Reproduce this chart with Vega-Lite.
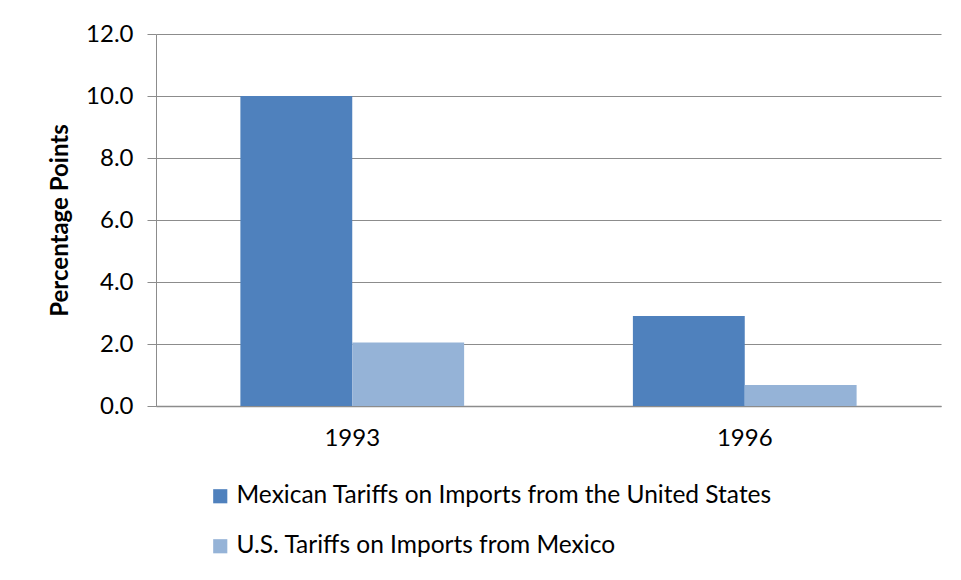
{
  "$schema": "https://vega.github.io/schema/vega-lite/v6.json",
  "width": 785,
  "height": 372,
  "autosize": {"type": "none"},
  "padding": {"left": 156, "top": 34, "right": 20, "bottom": 174},
  "background": "white",
  "config": {
    "view": {"stroke": null},
    "font": "Lato"
  },
  "data": {
    "values": [
      {"year": "1993", "series": "Mexican Tariffs on Imports from the United States", "value": 10.0},
      {"year": "1993", "series": "U.S. Tariffs on Imports from Mexico", "value": 2.05},
      {"year": "1996", "series": "Mexican Tariffs on Imports from the United States", "value": 2.9},
      {"year": "1996", "series": "U.S. Tariffs on Imports from Mexico", "value": 0.68}
    ]
  },
  "mark": {"type": "bar"},
  "encoding": {
    "x": {
      "field": "year",
      "type": "nominal",
      "scale": {"paddingInner": 0.43, "paddingOuter": 0.215},
      "axis": {
        "title": null,
        "labelAngle": 0,
        "labelFontSize": 24,
        "labelColor": "#000000",
        "labelPadding": 20,
        "ticks": false,
        "domainColor": "#8c8c8c",
        "domainWidth": 1.5
      }
    },
    "xOffset": {"field": "series", "type": "nominal", "sort": ["Mexican Tariffs on Imports from the United States", "U.S. Tariffs on Imports from Mexico"]},
    "y": {
      "field": "value",
      "type": "quantitative",
      "scale": {"domain": [0, 12]},
      "axis": {
        "title": "Percentage Points",
        "titleFontSize": 24,
        "titleFontWeight": "bold",
        "titleColor": "#000000",
        "titleX": -84,
        "values": [0, 2, 4, 6, 8, 10, 12],
        "format": ".1f",
        "labelFontSize": 24,
        "labelColor": "#000000",
        "labelPadding": 14,
        "tickSize": 9,
        "tickColor": "#8c8c8c",
        "domainColor": "#8c8c8c",
        "gridColor": "#8c8c8c",
        "gridWidth": 1.2,
        "grid": true
      }
    },
    "color": {
      "field": "series",
      "type": "nominal",
      "sort": ["Mexican Tariffs on Imports from the United States", "U.S. Tariffs on Imports from Mexico"],
      "scale": {"range": ["#4F81BD", "#95B3D7"]},
      "legend": {
        "title": null,
        "orient": "none",
        "legendX": 52,
        "legendY": 450,
        "direction": "vertical",
        "symbolType": "square",
        "symbolSize": 200,
        "symbolStrokeWidth": 0,
        "labelFontSize": 24.5,
        "labelColor": "#000000",
        "labelOffset": 4,
        "labelLimit": 800,
        "rowPadding": 25
      }
    }
  }
}
